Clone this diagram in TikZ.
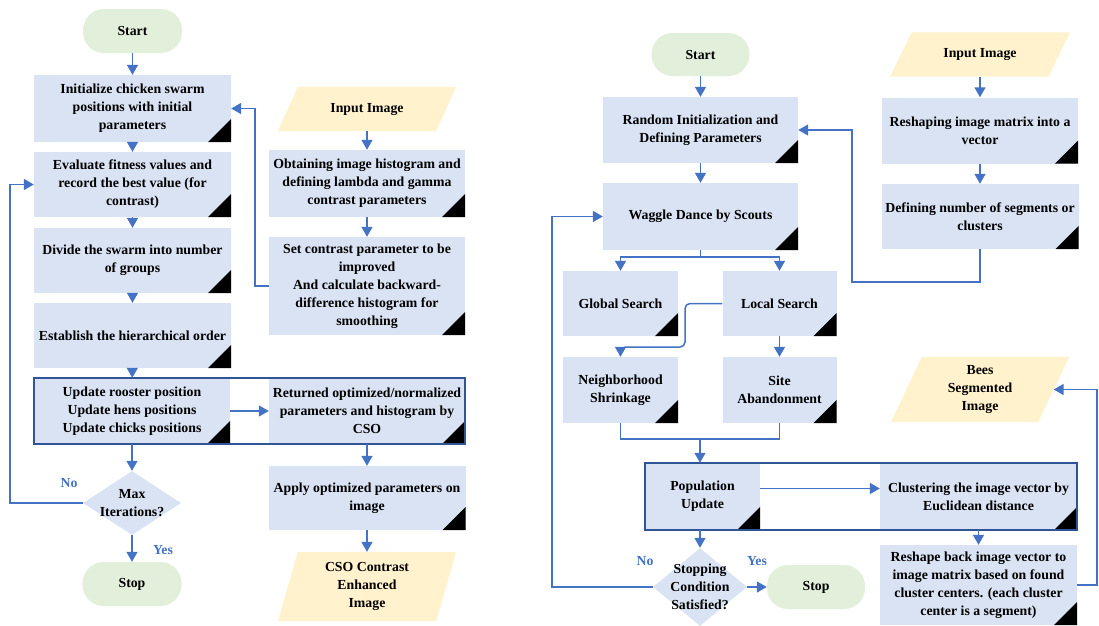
\documentclass[tikz,border=0pt]{standalone}
\usepackage{fontspec}
\setmainfont{Liberation Serif}
\usetikzlibrary{arrows.meta,shapes.geometric,fit,backgrounds}
\definecolor{flowblue}{HTML}{4472C4}
\definecolor{groupblue}{HTML}{2F5597}
\definecolor{boxfill}{HTML}{DAE3F3}
\definecolor{termfill}{HTML}{E2EFDA}
\definecolor{iofill}{HTML}{FFF2CC}

\begin{document}
\begin{tikzpicture}[x=1pt,y=-1pt,
  font=\fontsize{13.8}{18}\selectfont\bfseries,
  every node/.style={inner sep=0pt, align=center},
  proc/.style={fill=boxfill, minimum width=197pt, minimum height=66pt,
    path picture={\fill[black] (path picture bounding box.south east)
      -- ++(-23pt,0pt) -- ++(23pt,23pt) -- cycle;}},
  term/.style={fill=termfill, minimum width=99pt, minimum height=44pt, rounded corners=21pt},
  io/.style={minimum width=158pt, minimum height=44pt},
  decide/.style={diamond, fill=boxfill, minimum width=98pt, minimum height=64pt},
  group/.style={draw=groupblue, line width=2pt, inner sep=0pt},
  flow/.style={draw=flowblue, line width=1.5pt},
  arr/.style={flow, -{Triangle[width=11pt,length=10pt]}},
  yn/.style={text=flowblue}]

\useasboundingbox (0,0) rectangle (1099,625);

% ---------------- chicken swarm optimisation (left) ----------------
\node[term] (start1) at (132.5,31) {Start};
\node[proc, minimum height=67pt] (init) at (132.5,108.5) {Initialize chicken swarm\\positions with initial\\parameters};
\node[proc, minimum height=65pt] (eval) at (132.5,184.5) {Evaluate fitness values and\\record the best value (for\\contrast)};
\node[proc, minimum height=65pt] (divide) at (132.5,260.5) {Divide the swarm into number\\of groups};
\node[proc, minimum height=65pt] (estab) at (132.5,335.5) {Establish the hierarchical order};
\node[proc, minimum width=196pt] (upd) at (132,411) {Update rooster position\\Update hens positions\\Update chicks positions};
\node[proc, minimum width=196pt] (ret) at (367,411) {Returned optimized/normalized\\parameters and histogram by\\CSO};
\node[group, fit=(upd)(ret)] (grp1) {};
\node[decide] (maxit) at (132,503) {};
\node (maxitt) at (132,503) {Max\\Iterations?};
\node[term] (stop1) at (132,584) {Stop};

\node[io] (in1) at (367,109) {Input Image};
\node[proc, minimum width=196pt, minimum height=67pt] (obtain) at (367,183.5) {Obtaining image histogram and\\defining lambda and gamma\\contrast parameters};
\node[proc, minimum width=196pt, minimum height=98pt] (setc) at (367,286) {Set contrast parameter to be\\improved\\And calculate backward-\\difference histogram for\\smoothing};
\node[proc, minimum width=197pt, minimum height=64pt] (apply) at (367,498) {Apply optimized parameters on\\image};
\node[io, minimum height=69pt] (cso) at (367,586.5) {CSO Contrast\\Enhanced\\Image};

% ---------------- bees algorithm segmentation (right) ----------------
\node[term, minimum width=98pt, minimum height=43pt] (start2) at (700.5,54.5) {Start};
\node[proc, minimum width=195pt] (random) at (700.5,130) {Random Initialization and\\Defining Parameters};
\node[proc, minimum width=195pt, minimum height=67pt] (waggle) at (700.5,216.5) {Waggle Dance by Scouts};
\node[proc, minimum width=115pt, minimum height=65pt] (global) at (620.5,303.5) {Global Search};
\node[proc, minimum width=114pt, minimum height=65pt] (local) at (779.5,303.5) {Local Search};
\node[proc, minimum width=115pt] (neigh) at (620.5,390) {Neighborhood\\Shrinkage};
\node[proc, minimum width=114pt] (site) at (779.5,390) {Site\\Abandonment};
\coordinate (merge) at (700,439);
\node[proc, minimum width=115pt, minimum height=67pt] (pop) at (702.5,496.5) {Population\\Update};
\node[proc, minimum width=197pt, minimum height=67pt] (clust) at (978.5,496.5) {Clustering the image vector by\\Euclidean distance};
\node[group, fit=(pop)(clust)] (grp2) {};
\node[decide, minimum width=94pt, minimum height=78pt] (stopc) at (700,587) {};
\node (stopct) at (700,587) {Stopping\\Condition\\Satisfied?};
\node[term, minimum width=98pt] (stop2) at (816,587) {Stop};
\node[proc, minimum width=197pt, minimum height=80pt] (reshape) at (978.5,585) {Reshape back image vector to\\image matrix based on found\\cluster centers. (each cluster\\center is a segment)};

\node[io] (in2) at (980,54.5) {Input Image};
\node[proc, minimum width=196pt] (reshaping) at (980,130.5) {Reshaping image matrix into a\\vector};
\node[proc, minimum width=197pt, minimum height=65pt] (defining) at (980,216.5) {Defining number of segments or\\clusters};
\node[io, minimum width=147pt, minimum height=65pt] (bees) at (980,389.5) {Bees\\Segmented\\Image};

% parallelogram input/output shapes behind their labels
\begin{scope}[on background layer]
  \foreach \n/\s in {in1/10,cso/10,in2/11,bees/15.5}
    \fill[iofill] ([xshift=\s pt]\n.north west) -- ([xshift=\s pt]\n.north east)
      -- ([xshift=-\s pt]\n.south east) -- ([xshift=-\s pt]\n.south west) -- cycle;
\end{scope}

% ---------------- connectors (left) ----------------
\draw[arr] (start1) -- (init);
\draw[arr] (init) -- (eval);
\draw[arr] (eval) -- (divide);
\draw[arr] (divide) -- (estab);
\draw[arr] (estab) -- (upd);
\draw[arr] (upd) -- (ret);
\draw[arr] (upd) -- (maxit);
\draw[arr] (maxit) -- (stop1);
\draw[arr] (maxit.west) -- ++(-73,0) |- (eval.west);
\node[yn] (no1) at (69,483) {No};
\node[yn] (yes1) at (163,550) {Yes};
\draw[arr] (in1) -- (obtain);
\draw[arr] (obtain) -- (setc);
\draw[arr] (setc.west) -- ++(-14,0) |- (init.east);
\draw[arr] (ret) -- (apply);
\draw[arr] (apply) -- (cso);

% ---------------- connectors (right) ----------------
\draw[arr] (start2) -- (random);
\draw[arr] (random) -- (waggle);
\draw[arr] (waggle.south) -- ++(0,7) -| (global.north);
\draw[arr] (waggle.south) -- ++(0,7) -| (local.north);
\draw[arr, rounded corners=5pt] (local.west) -| (685,347) -| (neigh.north);
\draw[arr] (local) -- (site);
\draw[flow] (neigh.south) |- (merge) -| (site.south);
\draw[arr] (merge) -- (merge |- pop.north);
\draw[arr] ([yshift=8pt]pop.east) -- ([yshift=8pt]pop.east -| clust.west);
\draw[arr] (stopc |- pop.south) -- (stopc.north);
\draw[arr] (stopc) -- (stop2);
\draw[arr] (stopc.west) -- ++(-101,0) |- (waggle.west);
\node[yn] (no2) at (645,561) {No};
\node[yn] (yes2) at (757,561) {Yes};
\draw[arr] (clust) -- (reshape);
\draw[arr] (reshape.east) -- ++(20,0) |- (bees.east);
\draw[arr] (in2) -- (reshaping);
\draw[arr] (reshaping) -- (defining);
\coordinate (fb) at (852,282);
\draw[arr] (defining.south) |- (fb) |- (random.east);
\end{tikzpicture}
\end{document}
